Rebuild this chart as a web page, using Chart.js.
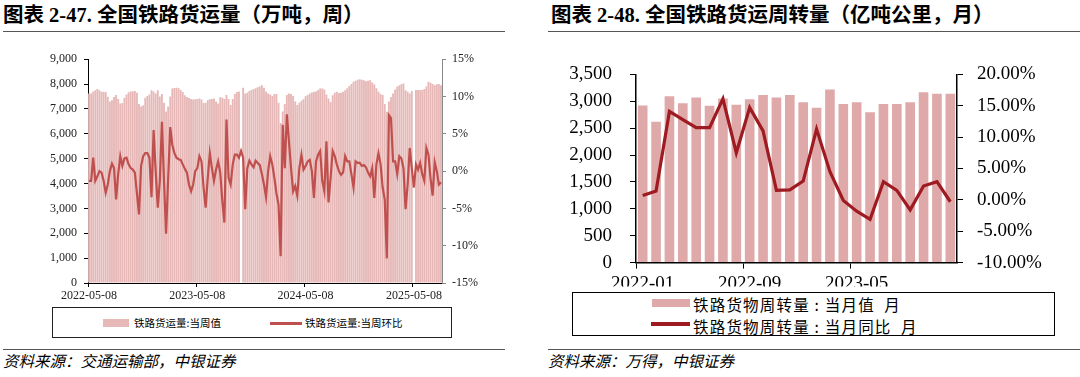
<!DOCTYPE html>
<html>
<head>
<meta charset="utf-8">
<script src="https://cdn.jsdelivr.net/npm/chart.js@4.4.0/dist/chart.umd.min.js"></script>
<style>
  body { margin: 0; width: 1080px; height: 377px; background: #fff; position: relative; overflow: hidden;
         font-family: "Liberation Serif", "Noto Sans CJK SC", serif; color: #000; }
  .abs { position: absolute; }
  .title { top: 3px; font-size: 20.5px; font-weight: 700; line-height: 24px; white-space: nowrap; }
  .rule { height: 0; border-top: 1.5px solid #555; }
  .src { top: 351px; font-size: 15.5px; font-style: italic; line-height: 22px; white-space: nowrap; }
  .lg1 { font-family: "Noto Sans CJK SC", sans-serif; font-size: 10.5px; line-height: 14px; white-space: nowrap; }
  .lg2 { font-family: "Noto Sans CJK SC", sans-serif; font-size: 15.5px; letter-spacing: 1.2px; line-height: 20px; white-space: pre; }
</style>
</head>
<body>

<div class="abs title" style="left:3px">图表 2-47. 全国铁路货运量（万吨，周）</div>
<div class="abs rule" style="left:3px; top:31px; width:502px"></div>
<div class="abs title" style="left:551px">图表 2-48. 全国铁路货运周转量（亿吨公里，月）</div>
<div class="abs rule" style="left:548px; top:31px; width:532px"></div>

<div class="abs" style="left:0; top:45px; width:505px; height:255px"><canvas id="c1" width="505" height="255"></canvas></div>
<div class="abs" style="left:540px; top:45px; width:540px; height:247px"><canvas id="c2" width="540" height="247"></canvas></div>

<!-- legend left -->
<div class="abs" style="left:52px; top:307px; width:398px; height:29px; border:1.2px solid #222; background:#fff"></div>
<div class="abs" style="left:103px; top:319px; width:26px; height:8px; background:#e6b8b7"></div>
<div class="abs lg1" style="left:134px; top:316px">铁路货运量:当周值</div>
<div class="abs" style="left:270px; top:322px; width:32px; height:2.5px; background:#c0504d"></div>
<div class="abs lg1" style="left:305px; top:316px">铁路货运量:当周环比</div>

<!-- legend right -->
<div class="abs" style="left:572px; top:292px; width:481px; height:42px; border:1.5px solid #000; background:#fff"></div>
<div class="abs" style="left:652px; top:299px; width:38px; height:8px; background:#e0a9a9"></div>
<div class="abs lg2" style="left:693px; top:294px">铁路货物周转量 : 当月值  月</div>
<div class="abs" style="left:651px; top:322px; width:39px; height:3.5px; background:#9e1b22"></div>
<div class="abs lg2" style="left:693px; top:316px">铁路货物周转量 : 当月同比  月</div>

<div class="abs rule" style="left:3px; top:349px; width:502px"></div>
<div class="abs rule" style="left:548px; top:349px; width:532px"></div>
<div class="abs src" style="left:3px">资料来源：交通运输部，中银证券</div>
<div class="abs src" style="left:548px">资料来源：万得，中银证券</div>

<script>
// 全国铁路货运量（万吨，周），起始 2022-05-08
const weeklyVolume = [
  7620, 7620, 7700, 7750, 7800, 7750, 7690, 7690, 7680, 7490,
  7300, 7350, 7480, 7560, 7400, 7220, 7240, 7450, 7580, 7670,
  7700, 7710, 7720, 7650, 7200, 7100, 7150, 7450, 7520, 7580,
  7750, 7700, 7620, 7750, 7500, 7600, 7250, 6900, 7100, 7500,
  7820, 7840, 7850, 7830, 7760, 7680, 7550, 7480, 7440, 7400,
  7380, 7390, 7400, 7420, 7380, 7240, 7250, 7350, 7390, 7400,
  7420, 7300, 7220, 7470, 7450, 7400, 7560, 7400, 7160, 7400,
  7600, 7680, 7700, null, 7850, 7620, 7650, 7720, 7760, 7800,
  7830, 7870, 7900, 7950, 7850, 7700, 7620, 7580, 7520, 7600,
  7600, 7250, 6430, 6900, 7200, 7560, 7620, 7600, 7520, 7300,
  7160, 7250, 7330, 7400, 7520, 7560, 7620, 7660, 7690, 7700,
  7760, 7820, 7820, 7780, 7580, 7420, 7280, 7550, 7650, 7690,
  7640, 7650, 7690, 7750, 7830, 7920, 8000, 8090, 8130, 8170,
  8190, 8170, 8150, 8110, 8130, 8150, 8060, 7980, 7830, 7700,
  7600, 7560, 7200, 6890, 7300, 7480, 7620, 7780, 7900, 7950,
  7990, 8020, 7750, 7690, 7620, 7720, null, 7760, 7760, 7760,
  7760, 7800, 7900, 8090, 8050, 8000, 7950, 7990, 8000, 7950
];
// 当周环比（%）
const weeklyChange = [
  -1.3, -1.3, 1.8, -1.3, -0.7, 0.0, -0.2, -1.3, -2.9, -1.8,
  0.0, 1.0, 0.4, -3.8, -0.4, 2.0, 0.7, 1.7, 1.8, 0.9,
  0.4, 0.2, -0.2, -3.0, -5.8, 0.7, 2.0, 2.4, 2.4, 1.8,
  -3.5, 5.5, 0.0, -4.9, -1.3, 6.6, -1.3, -8.4, -1.0, 5.9,
  3.5, 2.4, 1.8, 1.6, 1.5, 0.9, 0.3, -0.2, -1.8, -2.7,
  -1.8, 0.0, 0.4, 2.0, 1.3, -2.2, -4.9, -0.9, 2.4, 0.4,
  -1.3, 0.2, 1.3, -0.2, -4.0, -6.9, 6.9, -0.9, -1.8, 0.9,
  2.2, 2.2, 1.8, 2.7, 1.8, -5.1, 0.4, 1.4, 0.9, 0.5,
  1.4, 1.1, 0.8, -0.4, -1.8, -3.5, 0.0, 2.0, 0.9, -0.9,
  -3.0, -4.5, -11.4, 6.2, 0.4, 7.6, 4.0, 0.4, -2.7, -2.0,
  -3.3, 0.4, 2.2, 0.2, 0.7, 1.3, 1.5, 0.0, -3.6, 1.3,
  2.2, 2.7, -1.3, -2.7, 4.0, -4.2, -0.9, 2.7, 2.0, 0.9,
  0.0, -0.5, -0.2, 2.0, 1.3, 1.3, -0.4, -2.2, 1.3, 1.1,
  1.1, 0.7, 0.8, 0.5, -0.2, -0.7, 0.4, -3.6, 0.9, 2.4,
  0.9, -2.2, -3.8, -11.7, 7.5, 7.1, 1.3, 1.3, -0.4, 2.0,
  1.7, 0.4, -5.1, -1.8, 3.1, 0.4, -2.2, 0.9, 0.2, 1.1,
  -0.4, -1.3, 3.1, 2.2, -1.0, -3.3, 1.2, 0.0, -1.8, -1.5
];
const weekTickIdx = [0, 52, 104, 156];
const weekTickLabels = ["2022-05-08", "2023-05-08", "2024-05-08", "2025-05-08"];

// 铁路货物周转量（亿吨公里，月）
const months = [
  "2022-01", "2022-02", "2022-03", "2022-04", "2022-05", "2022-06",
  "2022-07", "2022-08", "2022-09", "2022-10", "2022-11", "2022-12",
  "2023-01", "2023-02", "2023-03", "2023-04", "2023-05", "2023-06",
  "2023-07", "2023-08", "2023-09", "2023-10", "2023-11", "2023-12"
];
const monthlyTurnover = [
  2920, 2620, 3095, 2965, 3070, 2915, 3050, 2935, 3040, 3115, 3070, 3115,
  2980, 2880, 3220, 2950, 2980, 2795, 2950, 2950, 2980, 3170, 3140, 3140
];
const monthlyYoY = [
  0.7, 1.4, 14.1, 12.8, 11.5, 11.5, 16.1, 7.5, 14.7, 11.0, 1.5, 1.6,
  3.0, 11.3, 4.5, -0.1, -1.8, -3.1, 2.9, 1.5, -1.6, 2.2, 2.9, -0.3
];

// 周标签（仅用于分类轴）
const weeks = [];
for (let i = 0; i < weeklyVolume.length; i++) {
  const d = new Date(Date.UTC(2022, 4, 8 + 7 * i));
  weeks.push(d.toISOString().slice(0, 10));
}

const serif = "Liberation Serif";
const clear = "rgba(0,0,0,0)";

// 左图
new Chart(document.getElementById("c1"), {
  type: "bar",
  data: {
    labels: weeks,
    datasets: [
      {
        type: "line", data: weeklyChange, yAxisID: "y1", order: 0,
        borderColor: "#c0504d", borderWidth: 2.2, pointRadius: 0, tension: 0
      },
      {
        data: weeklyVolume, yAxisID: "y", order: 1,
        backgroundColor: "#e6b8b7", categoryPercentage: 0.9, barPercentage: 1
      }
    ]
  },
  options: {
    responsive: false, animation: false,
    layout: { padding: { top: 12, left: 0, right: 0, bottom: 0 } },
    plugins: { legend: { display: false }, tooltip: { enabled: false } },
    scales: {
      x: {
        afterFit: s => { s.height = 17; },
        border: { display: true, color: "#000", width: 1 },
        grid: { drawOnChartArea: false, tickLength: 4, color: c => weekTickIdx.includes(c.index) ? "#000" : clear },
        ticks: {
          autoSkip: false, maxRotation: 0, minRotation: 0, padding: 2,
          color: "#222", font: { family: serif, size: 12 },
          callback: (v, i) => { const k = weekTickIdx.indexOf(i); return k >= 0 ? weekTickLabels[k] : ""; }
        }
      },
      y: {
        position: "left", min: 0, max: 9000,
        afterFit: s => { s.width = 88; },
        border: { display: true, color: "#000", width: 1 },
        grid: { drawOnChartArea: false, tickLength: 4, color: "#000" },
        ticks: { stepSize: 1000, padding: 7, color: "#222", font: { family: serif, size: 12 },
                 callback: v => v.toLocaleString("en-US") }
      },
      y1: {
        position: "right", min: -15, max: 15,
        afterFit: s => { s.width = 63; },
        border: { display: true, color: "#888", width: 1 },
        grid: { drawOnChartArea: false, tickLength: 4, color: "#888" },
        ticks: { stepSize: 5, padding: 6, color: "#222", font: { family: serif, size: 12 },
                 callback: v => v + "%" }
      }
    }
  }
});

// 右图
new Chart(document.getElementById("c2"), {
  type: "bar",
  data: {
    labels: months,
    datasets: [
      {
        type: "line", data: monthlyYoY, yAxisID: "y1", order: 0,
        borderColor: "#9e1b22", borderWidth: 3.2, pointRadius: 0, tension: 0
      },
      {
        data: monthlyTurnover, yAxisID: "y", order: 1,
        backgroundColor: "#e0a9a9", categoryPercentage: 0.72, barPercentage: 1
      }
    ]
  },
  options: {
    responsive: false, animation: false,
    layout: { padding: { top: 25, left: 0, right: 0, bottom: 0 } },
    plugins: { legend: { display: false }, tooltip: { enabled: false } },
    scales: {
      x: {
        afterFit: s => { s.height = 24; },
        border: { display: true, color: "#000", width: 1.5 },
        grid: { drawOnChartArea: false, tickLength: 6, color: c => c.index % 8 === 0 ? "#000" : clear },
        ticks: {
          autoSkip: false, maxRotation: 0, minRotation: 0, padding: 4,
          color: "#000", font: { family: serif, size: 19 },
          callback: (v, i) => i % 8 === 0 ? months[i] : ""
        }
      },
      y: {
        position: "left", min: 0, max: 3500,
        afterFit: s => { s.width = 96; },
        border: { display: true, color: "#000", width: 1.5 },
        grid: { drawOnChartArea: false, tickLength: 6, color: "#000" },
        ticks: { stepSize: 500, padding: 18, color: "#000", font: { family: serif, size: 19 },
                 callback: v => v.toLocaleString("en-US") }
      },
      y1: {
        position: "right", min: -10, max: 20,
        afterFit: s => { s.width = 123; },
        border: { display: true, color: "#000", width: 1.5 },
        grid: { drawOnChartArea: false, tickLength: 6, color: "#000" },
        ticks: { stepSize: 5, padding: 14, color: "#000", font: { family: serif, size: 19 },
                 callback: v => v.toFixed(2) + "%" }
      }
    }
  }
});
</script>
</body>
</html>
